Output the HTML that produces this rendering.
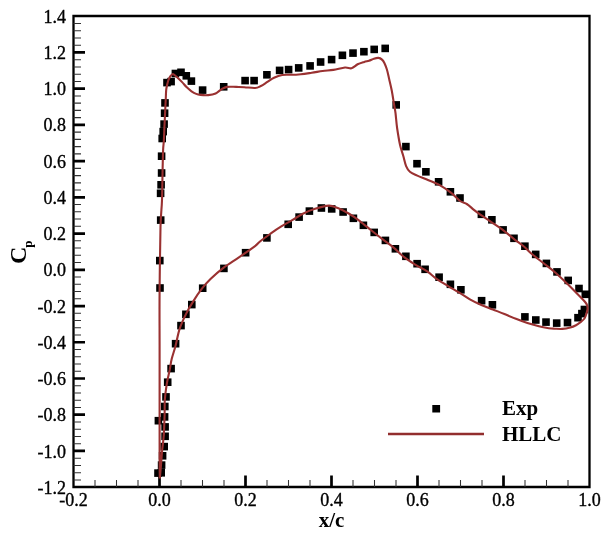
<!DOCTYPE html>
<html><head><meta charset="utf-8"><style>
html,body{margin:0;padding:0;background:#fff;}
svg{display:block;will-change:transform;}
.t{font-family:"Liberation Serif",serif;font-size:18px;fill:#000;stroke:#000;stroke-width:0.35px;}
.b{font-family:"Liberation Serif",serif;font-size:21px;font-weight:bold;fill:#000;}
.c{font-family:"Liberation Serif",serif;font-size:24px;font-weight:bold;fill:#000;}
.s{font-family:"Liberation Serif",serif;font-size:13px;font-weight:bold;fill:#000;}
</style></head><body>
<svg width="608" height="536" viewBox="0 0 608 536">
<path d="M73.5 16.0 H589.5 V487.0 H73.5 Z" fill="none" stroke="#000" stroke-width="2.3"/>
<text x="66" y="22.79" text-anchor="end" class="t">1.4</text>
<text x="66" y="59.02" text-anchor="end" class="t">1.2</text>
<text x="66" y="95.25" text-anchor="end" class="t">1.0</text>
<text x="66" y="131.48" text-anchor="end" class="t">0.8</text>
<text x="66" y="167.71" text-anchor="end" class="t">0.6</text>
<text x="66" y="203.94" text-anchor="end" class="t">0.4</text>
<text x="66" y="240.17" text-anchor="end" class="t">0.2</text>
<text x="66" y="276.40" text-anchor="end" class="t">0.0</text>
<text x="66" y="312.63" text-anchor="end" class="t">-0.2</text>
<text x="66" y="348.86" text-anchor="end" class="t">-0.4</text>
<text x="66" y="385.09" text-anchor="end" class="t">-0.6</text>
<text x="66" y="421.32" text-anchor="end" class="t">-0.8</text>
<text x="66" y="457.55" text-anchor="end" class="t">-1.0</text>
<text x="66" y="493.78" text-anchor="end" class="t">-1.2</text>
<text x="73.50" y="506" text-anchor="middle" class="t">-0.2</text>
<text x="159.50" y="506" text-anchor="middle" class="t">0.0</text>
<text x="245.50" y="506" text-anchor="middle" class="t">0.2</text>
<text x="331.50" y="506" text-anchor="middle" class="t">0.4</text>
<text x="417.50" y="506" text-anchor="middle" class="t">0.6</text>
<text x="503.50" y="506" text-anchor="middle" class="t">0.8</text>
<text x="589.50" y="506" text-anchor="middle" class="t">1.0</text>
<path d="M73.5 23.44 h7.5 M73.5 30.68 h7.5 M73.5 37.93 h7.5 M73.5 45.17 h7.5 M73.5 59.67 h7.5 M73.5 66.91 h7.5 M73.5 74.16 h7.5 M73.5 81.40 h7.5 M73.5 95.90 h7.5 M73.5 103.14 h7.5 M73.5 110.39 h7.5 M73.5 117.63 h7.5 M73.5 132.13 h7.5 M73.5 139.37 h7.5 M73.5 146.62 h7.5 M73.5 153.86 h7.5 M73.5 168.36 h7.5 M73.5 175.60 h7.5 M73.5 182.85 h7.5 M73.5 190.09 h7.5 M73.5 204.59 h7.5 M73.5 211.83 h7.5 M73.5 219.08 h7.5 M73.5 226.32 h7.5 M73.5 240.82 h7.5 M73.5 248.06 h7.5 M73.5 255.31 h7.5 M73.5 262.55 h7.5 M73.5 277.05 h7.5 M73.5 284.29 h7.5 M73.5 291.54 h7.5 M73.5 298.78 h7.5 M73.5 313.28 h7.5 M73.5 320.52 h7.5 M73.5 327.77 h7.5 M73.5 335.01 h7.5 M73.5 349.51 h7.5 M73.5 356.75 h7.5 M73.5 364.00 h7.5 M73.5 371.24 h7.5 M73.5 385.74 h7.5 M73.5 392.98 h7.5 M73.5 400.23 h7.5 M73.5 407.47 h7.5 M73.5 421.97 h7.5 M73.5 429.21 h7.5 M73.5 436.46 h7.5 M73.5 443.70 h7.5 M73.5 458.20 h7.5 M73.5 465.44 h7.5 M73.5 472.69 h7.5 M73.5 479.93 h7.5 M95.00 487.0 v-7 M116.50 487.0 v-7 M138.00 487.0 v-7 M181.00 487.0 v-7 M202.50 487.0 v-7 M224.00 487.0 v-7 M267.00 487.0 v-7 M288.50 487.0 v-7 M310.00 487.0 v-7 M353.00 487.0 v-7 M374.50 487.0 v-7 M396.00 487.0 v-7 M439.00 487.0 v-7 M460.50 487.0 v-7 M482.00 487.0 v-7 M525.00 487.0 v-7 M546.50 487.0 v-7 M568.00 487.0 v-7" fill="none" stroke="#333" stroke-width="1.05"/>
<path d="M73.5 52.42 h11.5 M73.5 88.65 h11.5 M73.5 124.88 h11.5 M73.5 161.11 h11.5 M73.5 197.34 h11.5 M73.5 233.57 h11.5 M73.5 269.80 h11.5 M73.5 306.03 h11.5 M73.5 342.26 h11.5 M73.5 378.49 h11.5 M73.5 414.72 h11.5 M73.5 450.95 h11.5 M159.50 487.0 v-11.5 M245.50 487.0 v-11.5 M331.50 487.0 v-11.5 M417.50 487.0 v-11.5 M503.50 487.0 v-11.5" fill="none" stroke="#000" stroke-width="2.7"/>
<text x="331.5" y="527" text-anchor="middle" class="b">x/c</text>
<g transform="translate(25.6,264) rotate(-90)"><text x="0" y="0" class="c">C</text><text x="16.2" y="6.3" class="s">p</text></g>
<g fill="#000"><rect x="163.2" y="78.8" width="7.6" height="7.6"/><rect x="167.3" y="77.8" width="7.6" height="7.6"/><rect x="171.6" y="69.7" width="7.6" height="7.6"/><rect x="177.2" y="68.5" width="7.6" height="7.6"/><rect x="182.5" y="72.0" width="7.6" height="7.6"/><rect x="187.6" y="77.3" width="7.6" height="7.6"/><rect x="198.8" y="86.3" width="7.6" height="7.6"/><rect x="219.9" y="83.0" width="7.6" height="7.6"/><rect x="241.3" y="76.8" width="7.6" height="7.6"/><rect x="250.3" y="76.8" width="7.6" height="7.6"/><rect x="263.1" y="71.0" width="7.6" height="7.6"/><rect x="275.8" y="66.6" width="7.6" height="7.6"/><rect x="284.8" y="65.8" width="7.6" height="7.6"/><rect x="294.9" y="64.1" width="7.6" height="7.6"/><rect x="306.3" y="62.1" width="7.6" height="7.6"/><rect x="316.8" y="58.2" width="7.6" height="7.6"/><rect x="327.8" y="55.8" width="7.6" height="7.6"/><rect x="338.6" y="51.5" width="7.6" height="7.6"/><rect x="349.2" y="49.3" width="7.6" height="7.6"/><rect x="360.1" y="47.9" width="7.6" height="7.6"/><rect x="370.4" y="45.6" width="7.6" height="7.6"/><rect x="381.4" y="44.6" width="7.6" height="7.6"/><rect x="392.4" y="101.1" width="7.6" height="7.6"/><rect x="402.1" y="142.8" width="7.6" height="7.6"/><rect x="413.2" y="159.9" width="7.6" height="7.6"/><rect x="422.1" y="168.0" width="7.6" height="7.6"/><rect x="434.8" y="178.0" width="7.6" height="7.6"/><rect x="446.6" y="188.0" width="7.6" height="7.6"/><rect x="456.2" y="194.2" width="7.6" height="7.6"/><rect x="477.6" y="210.5" width="7.6" height="7.6"/><rect x="488.1" y="216.0" width="7.6" height="7.6"/><rect x="499.3" y="226.1" width="7.6" height="7.6"/><rect x="510.2" y="234.5" width="7.6" height="7.6"/><rect x="521.1" y="242.4" width="7.6" height="7.6"/><rect x="531.9" y="250.6" width="7.6" height="7.6"/><rect x="542.6" y="259.6" width="7.6" height="7.6"/><rect x="553.2" y="268.1" width="7.6" height="7.6"/><rect x="564.4" y="276.6" width="7.6" height="7.6"/><rect x="575.2" y="284.7" width="7.6" height="7.6"/><rect x="581.5" y="290.5" width="7.6" height="7.6"/><rect x="161.2" y="99.1" width="7.6" height="7.6"/><rect x="160.8" y="109.4" width="7.6" height="7.6"/><rect x="160.3" y="120.3" width="7.6" height="7.6"/><rect x="159.4" y="127.8" width="7.6" height="7.6"/><rect x="158.4" y="134.7" width="7.6" height="7.6"/><rect x="157.8" y="152.4" width="7.6" height="7.6"/><rect x="157.8" y="169.2" width="7.6" height="7.6"/><rect x="157.3" y="181.0" width="7.6" height="7.6"/><rect x="156.8" y="189.5" width="7.6" height="7.6"/><rect x="156.9" y="216.3" width="7.6" height="7.6"/><rect x="156.0" y="256.8" width="7.6" height="7.6"/><rect x="156.2" y="284.2" width="7.6" height="7.6"/><rect x="198.9" y="284.4" width="7.6" height="7.6"/><rect x="188.0" y="300.8" width="7.6" height="7.6"/><rect x="182.1" y="310.5" width="7.6" height="7.6"/><rect x="177.2" y="321.8" width="7.6" height="7.6"/><rect x="171.8" y="339.9" width="7.6" height="7.6"/><rect x="167.3" y="364.8" width="7.6" height="7.6"/><rect x="163.9" y="378.4" width="7.6" height="7.6"/><rect x="162.2" y="393.1" width="7.6" height="7.6"/><rect x="161.0" y="402.7" width="7.6" height="7.6"/><rect x="160.8" y="413.1" width="7.6" height="7.6"/><rect x="161.3" y="423.1" width="7.6" height="7.6"/><rect x="161.3" y="432.5" width="7.6" height="7.6"/><rect x="160.4" y="442.8" width="7.6" height="7.6"/><rect x="158.8" y="452.0" width="7.6" height="7.6"/><rect x="157.8" y="461.3" width="7.6" height="7.6"/><rect x="157.4" y="469.0" width="7.6" height="7.6"/><rect x="154.6" y="416.9" width="7.6" height="7.6"/><rect x="154.2" y="469.3" width="7.6" height="7.6"/><rect x="220.1" y="264.6" width="7.6" height="7.6"/><rect x="241.8" y="248.9" width="7.6" height="7.6"/><rect x="263.1" y="234.1" width="7.6" height="7.6"/><rect x="284.4" y="220.5" width="7.6" height="7.6"/><rect x="295.3" y="213.3" width="7.6" height="7.6"/><rect x="305.6" y="207.3" width="7.6" height="7.6"/><rect x="317.6" y="204.2" width="7.6" height="7.6"/><rect x="327.9" y="205.1" width="7.6" height="7.6"/><rect x="339.3" y="208.2" width="7.6" height="7.6"/><rect x="349.6" y="214.5" width="7.6" height="7.6"/><rect x="359.6" y="221.5" width="7.6" height="7.6"/><rect x="370.4" y="228.6" width="7.6" height="7.6"/><rect x="381.6" y="236.6" width="7.6" height="7.6"/><rect x="391.6" y="245.0" width="7.6" height="7.6"/><rect x="402.1" y="252.5" width="7.6" height="7.6"/><rect x="413.3" y="259.9" width="7.6" height="7.6"/><rect x="421.3" y="265.5" width="7.6" height="7.6"/><rect x="435.3" y="273.4" width="7.6" height="7.6"/><rect x="446.6" y="280.5" width="7.6" height="7.6"/><rect x="457.1" y="286.0" width="7.6" height="7.6"/><rect x="477.8" y="296.9" width="7.6" height="7.6"/><rect x="488.6" y="301.0" width="7.6" height="7.6"/><rect x="521.1" y="313.1" width="7.6" height="7.6"/><rect x="532.0" y="316.2" width="7.6" height="7.6"/><rect x="542.2" y="318.3" width="7.6" height="7.6"/><rect x="552.9" y="319.3" width="7.6" height="7.6"/><rect x="563.7" y="318.8" width="7.6" height="7.6"/><rect x="574.2" y="313.9" width="7.6" height="7.6"/><rect x="578.1" y="309.8" width="7.6" height="7.6"/><rect x="580.6" y="305.7" width="7.6" height="7.6"/></g>
<path d="M159.8 478.5 C159.8 473.8 159.6 471.4 159.6 450.0 C159.6 428.6 159.6 376.7 159.6 350.0 C159.6 323.3 159.4 310.5 159.6 290.0 C159.8 269.5 160.1 242.0 160.5 227.0 C160.9 212.0 161.7 209.5 162.0 200.0 C162.3 190.5 162.4 178.3 162.6 170.0 C162.8 161.7 162.9 155.0 163.1 150.0 C163.3 145.0 163.7 143.8 163.9 140.0 C164.1 136.2 164.2 132.6 164.4 127.4 C164.6 122.2 165.1 113.6 165.3 108.7 C165.5 103.8 165.6 101.3 165.8 98.0 C166.0 94.7 165.9 91.8 166.3 89.0 C166.7 86.2 167.5 83.1 168.1 81.0 C168.7 78.9 169.4 77.7 170.1 76.6 C170.8 75.5 171.5 74.9 172.1 74.5 C172.7 74.1 172.7 73.8 173.6 74.3 C174.5 74.8 176.0 76.1 177.4 77.4 C178.8 78.7 180.5 80.4 182.1 82.1 C183.7 83.8 185.2 85.8 186.8 87.3 C188.4 88.8 189.9 90.2 191.5 91.3 C193.1 92.4 194.7 93.3 196.2 93.9 C197.7 94.5 198.5 94.7 200.5 94.9 C202.5 95.1 205.7 95.3 208.2 95.1 C210.7 94.9 213.4 94.5 215.6 93.5 C217.8 92.5 219.5 90.4 221.4 89.3 C223.3 88.2 224.6 87.3 227.1 86.9 C229.6 86.5 233.3 86.9 236.2 86.9 C239.1 87.0 241.2 87.0 244.4 87.2 C247.6 87.4 252.3 88.2 255.1 88.0 C257.8 87.8 258.8 87.0 260.9 86.0 C262.9 85.0 265.2 83.3 267.4 81.9 C269.6 80.5 271.5 79.0 274.0 77.8 C276.5 76.6 279.2 75.5 282.2 75.0 C285.2 74.5 289.0 74.9 292.1 74.8 C295.2 74.7 297.6 74.5 300.9 74.2 C304.2 73.9 308.1 73.3 311.7 72.8 C315.3 72.3 319.0 71.5 322.6 71.0 C326.2 70.5 329.7 70.5 333.4 69.9 C337.1 69.3 342.0 67.8 345.0 67.5 C348.0 67.2 349.4 68.8 351.5 68.3 C353.6 67.8 355.5 65.4 357.6 64.3 C359.7 63.2 362.3 62.5 364.2 61.9 C366.1 61.3 367.4 61.2 369.0 60.7 C370.6 60.2 372.3 59.2 373.9 58.7 C375.5 58.2 377.0 57.8 378.4 57.9 C379.8 58.0 381.0 58.7 382.0 59.6 C383.0 60.5 383.7 61.6 384.5 63.2 C385.3 64.9 386.1 66.9 386.9 69.5 C387.7 72.1 388.3 75.3 389.1 78.8 C389.9 82.3 391.0 86.5 391.8 90.7 C392.6 94.9 393.4 100.5 394.0 104.2 C394.6 107.9 395.0 109.0 395.5 113.0 C396.0 117.0 396.4 122.7 397.1 128.0 C397.9 133.3 399.0 140.1 400.0 144.8 C401.0 149.5 402.3 152.4 403.3 156.0 C404.3 159.6 405.0 163.6 406.1 166.2 C407.2 168.8 408.0 170.2 409.9 171.8 C411.8 173.4 414.2 174.2 417.3 175.6 C420.4 177.0 424.8 178.6 428.5 180.2 C432.2 181.8 436.0 183.1 439.7 185.2 C443.4 187.3 447.5 190.0 450.9 192.6 C454.3 195.2 457.5 199.1 460.1 201.0 C462.8 202.9 464.6 202.6 466.8 204.0 C469.1 205.4 471.4 207.8 473.6 209.6 C475.9 211.4 477.5 212.6 480.3 214.6 C483.1 216.6 486.7 218.8 490.3 221.3 C493.9 223.8 498.2 226.5 502.1 229.4 C506.0 232.3 510.2 236.0 513.8 238.8 C517.4 241.7 520.9 244.0 523.9 246.5 C526.9 249.0 528.6 251.2 531.9 254.0 C535.2 256.8 539.9 260.3 543.9 263.5 C547.9 266.7 551.8 269.5 555.8 273.0 C559.8 276.5 564.1 280.7 567.8 284.3 C571.5 287.9 575.2 291.8 578.2 294.8 C581.2 297.8 584.0 300.6 585.5 302.5 C587.0 304.4 587.0 304.8 587.3 306.0 C587.6 307.2 587.7 308.2 587.5 309.5 C587.3 310.8 586.8 312.5 586.3 314.0 C585.8 315.5 585.5 317.1 584.5 318.5 C583.5 319.9 581.9 321.1 580.5 322.2 C579.1 323.3 577.7 324.3 576.0 325.2 C574.3 326.1 572.6 326.9 570.3 327.5 C568.0 328.1 565.0 328.7 562.4 328.9 C559.8 329.1 556.8 328.8 554.5 328.7 C552.2 328.6 551.4 328.6 548.8 328.2 C546.2 327.8 542.5 327.2 538.9 326.3 C535.3 325.4 531.2 324.2 527.4 323.0 C523.6 321.8 519.7 320.3 515.9 318.8 C512.1 317.3 508.2 315.6 504.4 314.0 C500.6 312.4 496.7 311.0 492.9 309.5 C489.1 308.0 485.2 306.7 481.4 305.0 C477.6 303.3 473.6 301.4 469.9 299.3 C466.1 297.2 462.6 294.6 458.9 292.4 C455.2 290.1 451.4 288.1 447.7 285.8 C444.0 283.5 439.9 281.2 436.5 278.8 C433.1 276.4 430.6 273.6 427.2 271.3 C423.8 269.0 419.7 267.4 416.0 265.1 C412.3 262.8 408.5 260.6 404.8 257.7 C401.1 254.8 397.3 250.7 393.6 247.6 C389.9 244.5 386.1 242.1 382.4 239.2 C378.7 236.3 375.0 233.4 371.2 230.3 C367.4 227.2 363.2 223.6 359.5 220.8 C355.8 218.0 352.3 215.6 348.7 213.5 C345.1 211.4 341.1 209.4 337.8 208.1 C334.5 206.8 332.7 205.4 328.8 205.6 C324.9 205.8 318.5 207.7 314.3 209.0 C310.1 210.3 307.0 211.7 303.4 213.5 C299.8 215.3 296.2 217.8 292.6 219.9 C289.0 222.0 285.3 223.9 281.7 226.2 C278.1 228.4 274.5 230.8 270.9 233.4 C267.3 236.0 262.7 239.3 260.0 241.5 C257.3 243.7 258.2 243.7 254.7 246.3 C251.2 248.9 244.1 253.8 238.9 257.3 C233.7 260.9 228.4 264.0 223.7 267.6 C219.0 271.2 214.1 275.5 210.5 279.0 C206.9 282.5 204.9 284.8 202.1 288.4 C199.3 292.0 196.3 296.4 193.7 300.6 C191.0 304.8 188.5 308.9 186.2 313.6 C183.9 318.3 181.5 323.2 179.7 328.6 C177.9 334.0 176.8 341.0 175.5 346.0 C174.2 351.0 172.8 354.6 171.8 358.6 C170.8 362.6 170.5 365.7 169.7 370.0 C168.8 374.3 167.5 379.4 166.7 384.4 C165.9 389.4 165.2 394.9 164.8 400.0 C164.5 405.1 164.8 409.2 164.6 415.0 C164.4 420.8 164.2 429.2 163.8 435.0 C163.4 440.8 162.7 445.0 162.2 450.0 C161.7 455.0 161.4 460.2 161.0 465.0 C160.6 469.8 160.0 476.2 159.8 478.5" fill="none" stroke="#9a3131" stroke-width="2.1" stroke-linejoin="round"/>
<rect x="432.3" y="405" width="7.8" height="7.5" fill="#000"/>
<path d="M388 434 H484" stroke="#922e2e" stroke-width="2.5"/>
<text x="502" y="414.7" class="b">Exp</text>
<text x="502" y="440.7" class="b">HLLC</text>
</svg>
</body></html>
